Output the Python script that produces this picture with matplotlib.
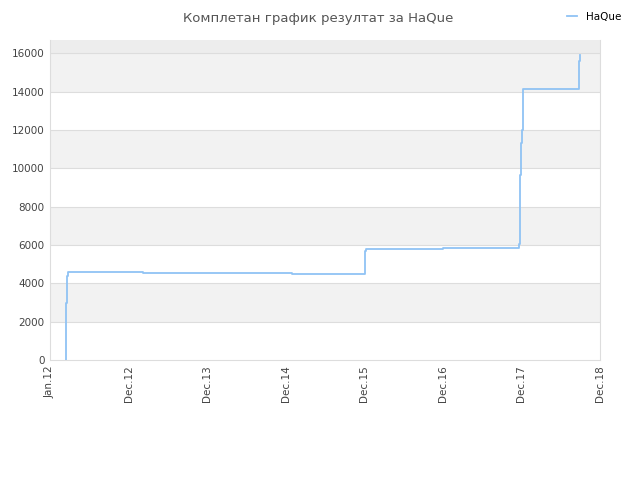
import matplotlib
matplotlib.use('Agg')
import matplotlib.pyplot as plt

# step points (x in year-slots: 0 = Jan.12, 7 = Dec.18)
stepX = [0.200, 0.200, 0.212, 0.228, 1.18, 3.08, 4.01, 4.02, 5.00, 5.97, 5.98, 5.99, 6.01, 6.02, 6.73, 6.745, 6.75]
stepY = [0, 2990, 4400, 4590, 4530, 4480, 5700, 5790, 5850, 6060, 9680, 11310, 11990, 14160, 15630, 15900, 15900]
tickLabels = ['Jan.12', 'Dec.12', 'Dec.13', 'Dec.14', 'Dec.15', 'Dec.16', 'Dec.17', 'Dec.18']
yTicks = [0, 2000, 4000, 6000, 8000, 10000, 12000, 14000, 16000]
yMax = 16700

fig = plt.figure(figsize=(6.4, 4.8), dpi=100)
ax = fig.add_axes([50/640, 120/480, 550/640, 320/480])

# alternating bands
for i in range(len(yTicks) - 1):
    if i % 2 == 1:
        ax.axhspan(yTicks[i], yTicks[i+1], color='#f2f2f2', zorder=0, lw=0)
ax.axhspan(yTicks[-1], yMax, color='#ededed', zorder=0, lw=0)
for t in yTicks[1:]:
    ax.axhline(t, color='#dddddd', lw=0.8, zorder=1)

ax.plot(stepX, stepY, drawstyle='steps-post', color='#90c3f4', lw=1.3, label='HaQue', zorder=3)

ax.set_xlim(0, 7)
ax.set_ylim(0, yMax)
ax.set_xticks(range(len(tickLabels)))
ax.set_xticklabels(tickLabels, rotation=90, fontsize=7.5, color='#444444')
ax.set_yticks(yTicks)
ax.set_yticklabels([str(t) for t in yTicks], fontsize=7.5, color='#444444')
ax.tick_params(length=0, pad=4)
for s in ax.spines.values():
    s.set_color('#dddddd')
ax.spines['top'].set_visible(False)

fig.text(0.497, 0.975, 'Комплетан график резултат за HaQue', ha='center', va='top', fontsize=9.5, color='#555555')
fig.legend(loc='upper right', bbox_to_anchor=(0.985, 0.995), frameon=False, fontsize=7.5,
           handlelength=1.0, handletextpad=0.8)

fig.savefig('out.png', dpi=100)
